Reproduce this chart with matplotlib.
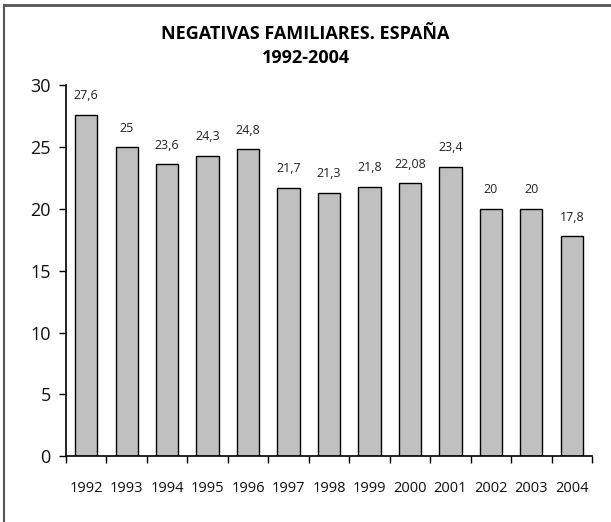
import matplotlib.pyplot as plt
from matplotlib.lines import Line2D
import numpy as np

years = ['1992', '1993', '1994', '1995', '1996', '1997', '1998',
         '1999', '2000', '2001', '2002', '2003', '2004']
values = [27.6, 25, 23.6, 24.3, 24.8, 21.7, 21.3, 21.8, 22.08, 23.4, 20, 20, 17.8]
value_labels = ['27,6', '25', '23,6', '24,3', '24,8', '21,7', '21,3',
                '21,8', '22,08', '23,4', '20', '20', '17,8']

plt.rcParams['font.family'] = ['Open Sans', 'DejaVu Sans']

fig = plt.figure(figsize=(6.11, 5.22), dpi=100)
ax = fig.add_axes([0.108, 0.126, 0.861, 0.711])

x = np.arange(len(years))
ax.bar(x, values, width=0.55, color='#c0c0c0', edgecolor='black', linewidth=1)

for xi, v, lab in zip(x, values, value_labels):
    ax.text(xi, v + 1.0, lab, ha='center', va='bottom', fontsize=9, color='#222222')

ax.set_xlim(-0.5, len(years) - 0.5)
ax.set_ylim(0, 30)
ax.set_yticks(range(0, 31, 5))
ax.tick_params(axis='y', labelsize=13, length=5, width=1, pad=6, labelcolor='#111111')
ax.set_xticks(x)
ax.set_xticklabels(years)
ax.tick_params(axis='x', which='major', length=0, labelsize=10.5, pad=18, labelcolor='#111111')
ax.set_xticks(np.arange(-0.5, len(years), 1), minor=True)
ax.tick_params(axis='x', which='minor', length=5, width=1, direction='out')

for s in ['top', 'right']:
    ax.spines[s].set_visible(False)
for s in ['left', 'bottom']:
    ax.spines[s].set_linewidth(1.2)

fig.text(0.5, 0.935, 'NEGATIVAS FAMILIARES. ESPAÑA', ha='center', va='center',
         fontsize=13, fontweight='bold')
fig.text(0.5, 0.888, '1992-2004', ha='center', va='center',
         fontsize=13, fontweight='bold')

# marco exterior (solo borde superior e izquierdo)
fig.add_artist(Line2D([0.007, 0.007], [0, 0.991], color='#555555', lw=1.5))
fig.add_artist(Line2D([0.006, 1.0], [0.99, 0.99], color='#555555', lw=2))

fig.savefig('out.png', dpi=100)
